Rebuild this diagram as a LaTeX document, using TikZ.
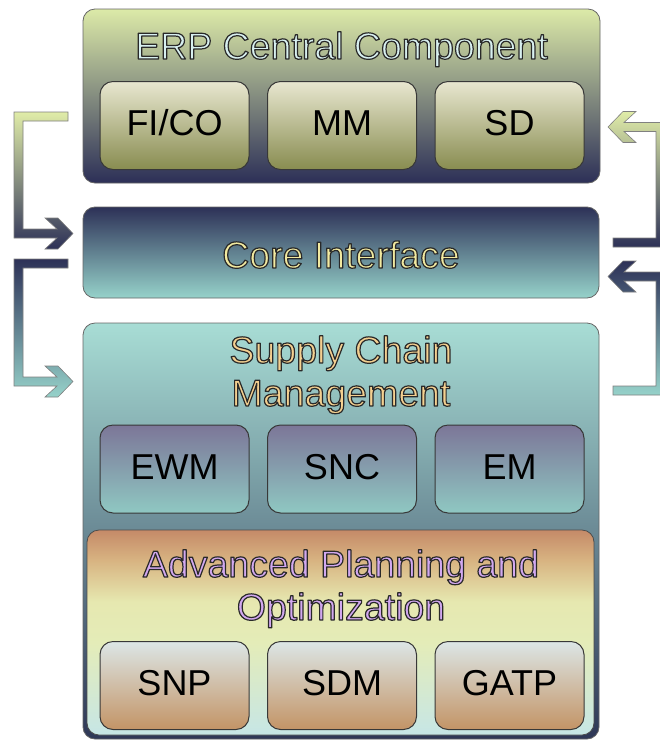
\documentclass[tikz,border=0pt]{standalone}
\usepackage{fontspec}
\setmainfont{Liberation Sans}
\definecolor{erpT}{HTML}{DCEAA8}
\definecolor{erpM}{HTML}{8E9678}
\definecolor{erpB}{HTML}{2C2F57}
\definecolor{fcT}{HTML}{E8E7D0}
\definecolor{fcB}{HTML}{888C50}
\definecolor{navy}{HTML}{2D3157}
\definecolor{teal}{HTML}{96D2CA}
\definecolor{scmT}{HTML}{A8DDD5}
\definecolor{scmB}{HTML}{2E3756}
\definecolor{ewT}{HTML}{7C7698}
\definecolor{ewB}{HTML}{8FC8C2}
\definecolor{apT}{HTML}{C58A68}
\definecolor{apU}{HTML}{D8B482}
\definecolor{apM}{HTML}{E6E8B0}
\definecolor{apL}{HTML}{E4ECB8}
\definecolor{apB}{HTML}{C6E6E6}
\definecolor{snT}{HTML}{DCE6E6}
\definecolor{snB}{HTML}{C39466}
\definecolor{lgreen}{HTML}{E0ECA8}
\definecolor{tErp}{HTML}{D8F0F0}
\definecolor{tCore}{HTML}{F2EAA0}
\definecolor{tScm}{HTML}{F4D090}
\definecolor{tApo}{HTML}{D2A8F0}
\pgfdeclareverticalshading{apoShade}{100bp}{color(0bp)=(apB); color(25bp)=(apB); color(47.5bp)=(apL); color(57.5bp)=(apM); color(67.5bp)=(apU); color(75bp)=(apT); color(100bp)=(apT)}
\newcommand\otext[2]{{\color{#1}\special{pdf:literal direct 2 Tr 1.2 w 1 j 0.16 0.16 0.16 RG}#2\special{pdf:literal direct 0 Tr}}}
\begin{document}
\begin{tikzpicture}[x=1pt,y=-1pt,
  big/.style={draw=black!60, line width=0.8pt, rounded corners=12pt, inner sep=0pt},
  sub/.style={draw=black!78, line width=1pt, rounded corners=13pt, minimum width=149pt, minimum height=88pt, inner sep=0pt, font=\fontsize{36}{44}\selectfont, text height=26pt, text depth=6pt},
  ttl/.style={anchor=base, inner sep=0pt, align=center, font=\fontsize{37.5}{43}\selectfont},
  arr/.style={draw=black!50, line width=0.6pt}]
\useasboundingbox (0,0) rectangle (660,740);
\fill[white] (0,0) rectangle (660,740);
\clip (0,0) rectangle (660,740);

% ERP central component
\node[big, minimum width=517pt, minimum height=174pt, top color=erpT, middle color=erpM, bottom color=erpB] (erp) at (341.5,96) {};
\node[ttl] (terp) at (341.5,59) {\otext{tErp}{ERP Central Component}};
\node[sub, top color=fcT, bottom color=fcB] (fico) at (174.5,125.5) {FI/CO};
\node[sub, top color=fcT, bottom color=fcB] (mm) at (342,125.5) {MM};
\node[sub, top color=fcT, bottom color=fcB] (sd) at (509.5,125.5) {SD};

% Core interface
\node[big, minimum width=516pt, minimum height=91pt, top color=navy, bottom color=teal] (core) at (341,252.5) {};
\node[ttl] (tcore) at (341,268) {\otext{tCore}{Core Interface}};

% Supply chain management
\node[big, minimum width=516pt, minimum height=416pt, top color=scmT, bottom color=scmB] (scm) at (341,531) {};
\node[ttl] (tscm) at (341,406) {\otext{tScm}{Supply Chain}\\\otext{tScm}{Management}};
\node[sub, top color=ewT, bottom color=ewB] (ewm) at (174.5,469) {EWM};
\node[sub, top color=ewT, bottom color=ewB] (snc) at (342,469) {SNC};
\node[sub, top color=ewT, bottom color=ewB] (em) at (509.5,469) {EM};

% APO
\node[big, draw=black!70, minimum width=507pt, minimum height=205pt, shading=apoShade] (apo) at (340.5,632.5) {};
\node[ttl] (tapo) at (341,620) {\otext{tApo}{Advanced Planning and}\\\otext{tApo}{Optimization}};
\node[sub, top color=snT, bottom color=snB] (snp) at (174.5,685.5) {SNP};
\node[sub, top color=snT, bottom color=snB] (sdm) at (342,685.5) {SDM};
\node[sub, top color=snT, bottom color=snB] (gatp) at (509.5,685.5) {GATP};

% Left arrows
\path[arr, top color=lgreen, bottom color=navy]
  (68,112) -- (14,112) -- (14,238) -- (57,238) -- (45,249) -- (58,249) -- (73,233.5)
  -- (58,218) -- (45,218) -- (57,229) -- (23,229) -- (23,121) -- (68,121) -- cycle;
\path[arr, top color=navy, bottom color=teal]
  (68,259) -- (14,259) -- (14,386) -- (57,386) -- (45,397) -- (58,397) -- (73,381.5)
  -- (58,366) -- (45,366) -- (57,377) -- (23,377) -- (23,268) -- (68,268) -- cycle;

% Right arrows
\path[arr, top color=lgreen, bottom color=navy]
  (613,247) -- (613,238) -- (656,238) -- (656,131.5) -- (624,131.5) -- (636,142.5)
  -- (623,142.5) -- (608,127) -- (623,111.5) -- (636,111.5) -- (624,122.5)
  -- (667,122.5) -- (667,247) -- cycle;
\path[arr, top color=navy, bottom color=teal]
  (613,395) -- (613,386) -- (656,386) -- (656,281) -- (624,281) -- (636,292)
  -- (623,292) -- (608,276.5) -- (623,261) -- (636,261) -- (624,272)
  -- (667,272) -- (667,395) -- cycle;
\end{tikzpicture}
\end{document}
